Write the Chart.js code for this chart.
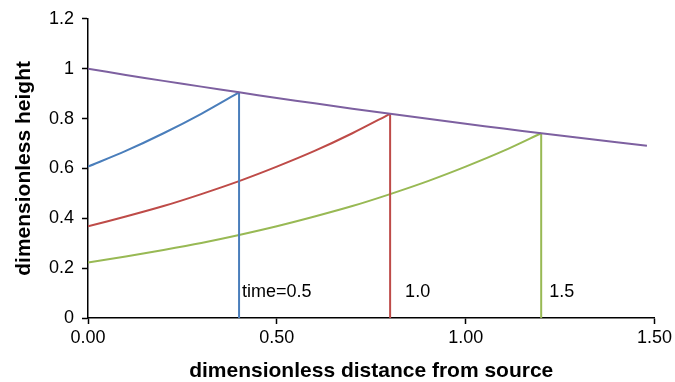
<!DOCTYPE html>
<html>
<head>
<meta charset="utf-8">
<script src="https://cdn.jsdelivr.net/npm/chart.js@4.4.1/dist/chart.umd.min.js"></script>
<style>
  html, body { margin: 0; padding: 0; background: #fff; }
  #wrap { width: 675px; height: 382px; }
</style>
</head>
<body>
<div id="wrap"><canvas id="myChart"></canvas></div>
<script>
// values
const xCurve = [0, 0.1, 0.2, 0.3, 0.4, 0.5, 0.6, 0.7, 0.8, 0.9, 1.0, 1.1, 1.2, 1.3, 1.4, 1.48];
const front = [1.000, 0.975, 0.951, 0.928, 0.905, 0.882, 0.861, 0.839, 0.819, 0.799, 0.779, 0.760, 0.741, 0.723, 0.705, 0.691];
const time05 = [0.607, 0.670, 0.741, 0.819, 0.905];
const time10 = [0.368, 0.407, 0.449, 0.497, 0.549, 0.607, 0.670, 0.741, 0.819];
const time15 = [0.223, 0.247, 0.273, 0.301, 0.333, 0.368, 0.407, 0.449, 0.497, 0.549, 0.607, 0.670, 0.741];
const labelText = ['time=0.5', '1.0', '1.5'];
const labelX = [0.4, 0.8, 1.2];
const xTicks = [0, 0.5, 1.0, 1.5];

const blue = '#4a7ebb', red = '#be4b48', green = '#98b954', purple = '#7d60a0';
const fam = '"Liberation Sans", Arial, sans-serif';

function pts(ys) { return ys.map((y, i) => ({ x: xCurve[i], y: y })); }
function drop(ys) { const i = ys.length - 1; return [{ x: xCurve[i], y: ys[i] }, { x: xCurve[i], y: 0 }]; }

function line(data, color, tension) {
  return { data: data, borderColor: color, borderWidth: 2, pointRadius: 0, tension: tension, fill: false };
}

const labelPlugin = {
  id: 'timeLabels',
  afterDatasetsDraw(chart) {
    const c = chart.ctx, xs = chart.scales.x, ys = chart.scales.y;
    const offs = [3, 15, 8];
    c.save();
    c.font = '18px ' + fam;
    c.fillStyle = '#000';
    c.textBaseline = 'middle';
    labelText.forEach((t, i) => {
      c.fillText(t, xs.getPixelForValue(labelX[i]) + offs[i], ys.getPixelForValue(0.105));
    });
    c.restore();
  }
};

const ctx = document.getElementById('myChart');
const grafico = new Chart(ctx, {
  type: 'line',
  data: {
    datasets: [
      line(pts(front), purple, 0.3),
      line(pts(time05), blue, 0.3),
      line(drop(time05), blue, 0),
      line(pts(time10), red, 0.3),
      line(drop(time10), red, 0),
      line(pts(time15), green, 0.3),
      line(drop(time15), green, 0)
    ]
  },
  options: {
    responsive: true,
    maintainAspectRatio: false,
    animation: false,
    layout: { padding: { left: 0, right: 19, top: 18, bottom: 0 } },
    plugins: { legend: { display: false }, tooltip: { enabled: false } },
    scales: {
      x: {
        type: 'linear',
        min: 0, max: 1.5,
        afterBuildTicks: s => { s.ticks = xTicks.map(v => ({ value: v })); },
        afterFit: s => { s.height = 64; },
        ticks: { callback: v => v.toFixed(2), color: '#000', padding: 3, maxRotation: 0,
                 font: { family: fam, size: 18 } },
        grid: { drawOnChartArea: false, drawTicks: true, tickLength: 6, tickColor: '#000', tickWidth: 1.5 },
        border: { color: '#000', width: 1.5 },
        title: { display: true, text: 'dimensionless distance from source', color: '#000', padding: 0,
                 font: { family: fam, size: 21, weight: 'bold', lineHeight: 1.0 } }
      },
      y: {
        min: 0, max: 1.2,
        ticks: { stepSize: 0.2, color: '#000', padding: 8, callback: v => String(Number(v.toFixed(1))),
                 font: { family: fam, size: 18 } },
        afterFit: s => { s.width = 88; },
        grid: { drawOnChartArea: false, drawTicks: true, tickLength: 6, tickColor: '#000', tickWidth: 1.5 },
        border: { color: '#000', width: 1.5 },
        title: { display: true, text: 'dimensionless height', color: '#000', padding: { top: 12, bottom: 0 },
                 font: { family: fam, size: 21, weight: 'bold' } }
      }
    }
  },
  plugins: [labelPlugin]
});
</script>
</body>
</html>
